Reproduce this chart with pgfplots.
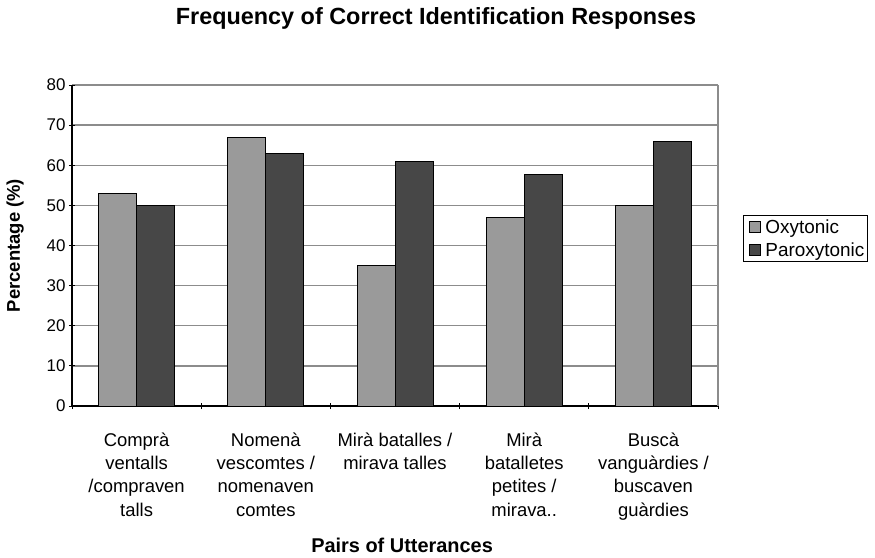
\documentclass[border=0pt]{standalone}
\usepackage{pgfplots}
\pgfplotsset{compat=1.18}
\usepackage{fontspec}
\setmainfont{Liberation Sans}
\definecolor{oxy}{HTML}{9A9A9A}
\definecolor{parox}{HTML}{474747}
\definecolor{gridc}{HTML}{8C8C8C}
\begin{document}
\begin{tikzpicture}
\useasboundingbox (0,0) rectangle (875bp,558bp);
\begin{axis}[
  at={(72bp,152bp)}, anchor=south west,
  scale only axis, width=646bp, height=321bp,
  ybar=0pt, bar width=38bp,
  xmin=-0.5, xmax=4.5, ymin=0, ymax=80,
  ytick={0,10,...,80},
  xtick={-0.5,0.5,1.5,2.5,3.5,4.5},
  x tick label as interval,
  xticklabels={{Comprà\\ventalls\\/compraven\\talls},{Nomenà\\vescomtes /\\nomenaven\\comtes},{Mirà batalles /\\mirava talles},{Mirà\\batalletes\\petites /\\mirava..},{Buscà\\vanguàrdies /\\buscaven\\guàrdies}},
  xticklabel style={align=center, font=\fontsize{18.5}{23.5}\selectfont, anchor=north, yshift=-20bp},
  yticklabel style={font=\fontsize{17}{20}\selectfont},
  /pgf/number format/assume math mode=true,
  tick align=outside, major tick length=6bp,
  tick style={black, line width=1pt},
  axis lines=left, axis line style={-, black, line width=1.2pt},
  ymajorgrids, grid style={gridc, line width=1.4pt},
  title={Frequency of Correct Identification Responses},
  title style={at={(axis description cs:0.5635,1.19)}, anchor=center, font=\fontsize{23.5}{28}\bfseries},
  ylabel={Percentage (\%)},
  ylabel style={at={(axis description cs:-0.088,0.5)}, anchor=center, font=\fontsize{18.5}{22}\bfseries},
  xlabel={Pairs of Utterances},
  xlabel style={at={(axis description cs:0.511,-0.433)}, anchor=center, font=\fontsize{20}{24}\bfseries},
  legend style={at={(axis description cs:1.0387,0.595)}, anchor=north west, draw=black, line width=1pt,
    font=\fontsize{19}{22}\selectfont, inner xsep=1bp, inner ysep=2bp, row sep=4bp, legend cell align=left},
  legend image code/.code={\path[draw=none, fill=none] (0bp,0bp) -- (19bp,0bp);\draw[#1, draw=black, line width=0.8pt] (5bp,-5.5bp) rectangle (16bp,5.5bp);},
  every axis plot/.append style={draw=black, line width=0.8pt},
  clip=false,
]
\addplot[fill=oxy] coordinates {(0,53) (1,67) (2,35) (3,47) (4,50)};
\addplot[fill=parox] coordinates {(0,50) (1,63) (2,61) (3,57.6) (4,66)};
\legend{Oxytonic, Paroxytonic}
\draw[gridc, line width=1.4pt] (rel axis cs:1,0) -- (rel axis cs:1,1);
\end{axis}
\end{tikzpicture}
\end{document}
